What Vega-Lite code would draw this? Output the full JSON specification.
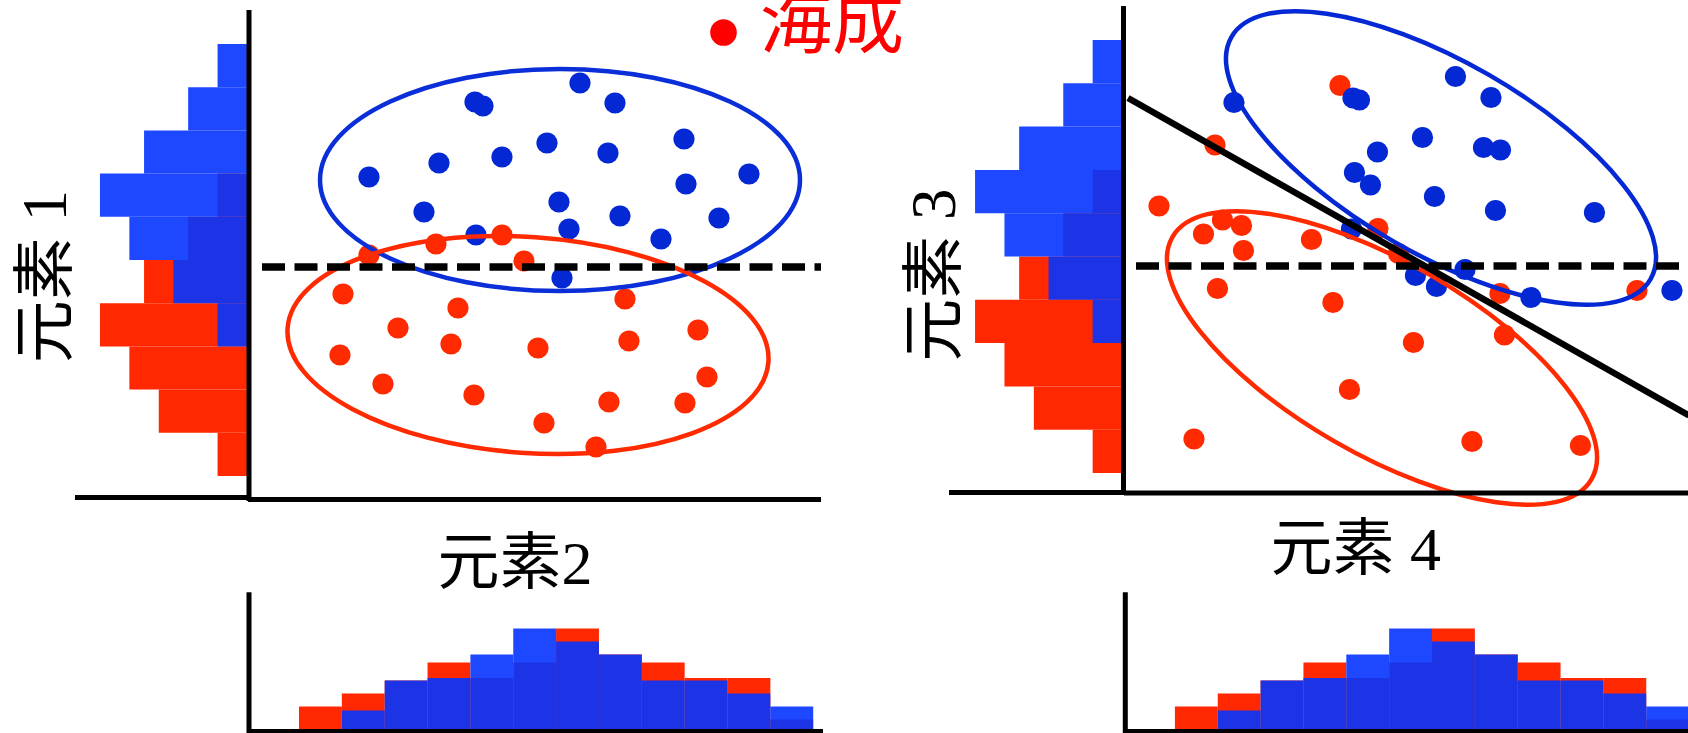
{
  "$schema": "https://vega.github.io/schema/vega-lite/v6.json",
  "width": 1688,
  "height": 733,
  "autosize": "none",
  "padding": 0,
  "background": "white",
  "config": {"view": {"stroke": null}, "axis": {"disable": true}},
  "datasets": {
    "pts": [
      {"panel": "A", "cls": "red", "x": 2.42, "y": 4.88},
      {"panel": "A", "cls": "red", "x": 3.76, "y": 5.10},
      {"panel": "A", "cls": "red", "x": 5.08, "y": 5.28},
      {"panel": "A", "cls": "red", "x": 5.52, "y": 4.76},
      {"panel": "A", "cls": "red", "x": 1.90, "y": 4.10},
      {"panel": "A", "cls": "red", "x": 4.20, "y": 3.82},
      {"panel": "A", "cls": "red", "x": 7.54, "y": 4.00},
      {"panel": "A", "cls": "red", "x": 3.00, "y": 3.42},
      {"panel": "A", "cls": "red", "x": 4.06, "y": 3.10},
      {"panel": "A", "cls": "red", "x": 1.84, "y": 2.88},
      {"panel": "A", "cls": "red", "x": 5.80, "y": 3.02},
      {"panel": "A", "cls": "red", "x": 7.62, "y": 3.16},
      {"panel": "A", "cls": "red", "x": 9.00, "y": 3.38},
      {"panel": "A", "cls": "red", "x": 2.70, "y": 2.30},
      {"panel": "A", "cls": "red", "x": 4.52, "y": 2.08},
      {"panel": "A", "cls": "red", "x": 9.18, "y": 2.44},
      {"panel": "A", "cls": "red", "x": 7.22, "y": 1.94},
      {"panel": "A", "cls": "red", "x": 8.74, "y": 1.92},
      {"panel": "A", "cls": "red", "x": 5.92, "y": 1.52},
      {"panel": "A", "cls": "red", "x": 6.96, "y": 1.04},
      {"panel": "A", "cls": "blue", "x": 6.64, "y": 8.32},
      {"panel": "A", "cls": "blue", "x": 4.54, "y": 7.94},
      {"panel": "A", "cls": "blue", "x": 4.70, "y": 7.86},
      {"panel": "A", "cls": "blue", "x": 7.34, "y": 7.92},
      {"panel": "A", "cls": "blue", "x": 5.98, "y": 7.12},
      {"panel": "A", "cls": "blue", "x": 7.20, "y": 6.92},
      {"panel": "A", "cls": "blue", "x": 8.72, "y": 7.20},
      {"panel": "A", "cls": "blue", "x": 5.08, "y": 6.84},
      {"panel": "A", "cls": "blue", "x": 3.82, "y": 6.72},
      {"panel": "A", "cls": "blue", "x": 2.42, "y": 6.44},
      {"panel": "A", "cls": "blue", "x": 8.76, "y": 6.30},
      {"panel": "A", "cls": "blue", "x": 10.02, "y": 6.50},
      {"panel": "A", "cls": "blue", "x": 3.52, "y": 5.74},
      {"panel": "A", "cls": "blue", "x": 6.22, "y": 5.94},
      {"panel": "A", "cls": "blue", "x": 7.44, "y": 5.66},
      {"panel": "A", "cls": "blue", "x": 9.42, "y": 5.62},
      {"panel": "A", "cls": "blue", "x": 4.56, "y": 5.28},
      {"panel": "A", "cls": "blue", "x": 6.42, "y": 5.40},
      {"panel": "A", "cls": "blue", "x": 8.26, "y": 5.20},
      {"panel": "A", "cls": "blue", "x": 6.28, "y": 4.42},
      {"panel": "B", "cls": "red", "x": 4.32, "y": 8.15},
      {"panel": "B", "cls": "red", "x": 1.82, "y": 6.96},
      {"panel": "B", "cls": "red", "x": 0.70, "y": 5.74},
      {"panel": "B", "cls": "red", "x": 1.97, "y": 5.46},
      {"panel": "B", "cls": "red", "x": 1.59, "y": 5.18},
      {"panel": "B", "cls": "red", "x": 2.35, "y": 5.35},
      {"panel": "B", "cls": "red", "x": 2.39, "y": 4.85},
      {"panel": "B", "cls": "red", "x": 3.75, "y": 5.07},
      {"panel": "B", "cls": "red", "x": 5.08, "y": 5.29},
      {"panel": "B", "cls": "red", "x": 5.49, "y": 4.79},
      {"panel": "B", "cls": "red", "x": 1.87, "y": 4.09},
      {"panel": "B", "cls": "red", "x": 4.18, "y": 3.81},
      {"panel": "B", "cls": "red", "x": 7.52, "y": 3.99},
      {"panel": "B", "cls": "red", "x": 10.26, "y": 4.05},
      {"panel": "B", "cls": "red", "x": 7.61, "y": 3.16},
      {"panel": "B", "cls": "red", "x": 5.79, "y": 3.01},
      {"panel": "B", "cls": "red", "x": 4.51, "y": 2.07},
      {"panel": "B", "cls": "red", "x": 1.40, "y": 1.08},
      {"panel": "B", "cls": "red", "x": 6.96, "y": 1.03},
      {"panel": "B", "cls": "red", "x": 9.13, "y": 0.95},
      {"panel": "B", "cls": "blue", "x": 6.63, "y": 8.33},
      {"panel": "B", "cls": "blue", "x": 7.34, "y": 7.91},
      {"panel": "B", "cls": "blue", "x": 2.20, "y": 7.81},
      {"panel": "B", "cls": "blue", "x": 4.58, "y": 7.90},
      {"panel": "B", "cls": "blue", "x": 4.71, "y": 7.86},
      {"panel": "B", "cls": "blue", "x": 5.97, "y": 7.11},
      {"panel": "B", "cls": "blue", "x": 5.07, "y": 6.82},
      {"panel": "B", "cls": "blue", "x": 7.19, "y": 6.91},
      {"panel": "B", "cls": "blue", "x": 7.53, "y": 6.86},
      {"panel": "B", "cls": "blue", "x": 4.61, "y": 6.41},
      {"panel": "B", "cls": "blue", "x": 4.93, "y": 6.16},
      {"panel": "B", "cls": "blue", "x": 6.21, "y": 5.93},
      {"panel": "B", "cls": "blue", "x": 7.43, "y": 5.65},
      {"panel": "B", "cls": "blue", "x": 9.41, "y": 5.61},
      {"panel": "B", "cls": "blue", "x": 4.55, "y": 5.28},
      {"panel": "B", "cls": "blue", "x": 6.82, "y": 4.47},
      {"panel": "B", "cls": "blue", "x": 5.83, "y": 4.35},
      {"panel": "B", "cls": "blue", "x": 6.25, "y": 4.13},
      {"panel": "B", "cls": "blue", "x": 8.14, "y": 3.91},
      {"panel": "B", "cls": "blue", "x": 10.96, "y": 4.05}
    ],
    "ell": [
      {"panel": "A", "cls": "blue", "x": 6.24, "y": 6.38},
      {"panel": "A", "cls": "red", "x": 5.60, "y": 3.08},
      {"panel": "B", "cls": "blue", "x": 6.34, "y": 6.70},
      {"panel": "B", "cls": "red", "x": 5.16, "y": 2.70}
    ],
    "segs": [
      {"panel": "A", "kind": "axis", "x": 0.02, "y": -0.04, "x2": 0.02, "y2": 9.78},
      {"panel": "A", "kind": "axis", "x": 0.0, "y": -0.01, "x2": 11.46, "y2": -0.01},
      {"panel": "A", "kind": "axis", "x": -3.46, "y": 0.03, "x2": 0.02, "y2": 0.03},
      {"panel": "A", "kind": "dash", "x": 0.28, "y": 4.64, "x2": 11.46, "y2": 4.64},
      {"panel": "B", "kind": "axis", "x": -0.01, "y": -0.04, "x2": -0.01, "y2": 9.74},
      {"panel": "B", "kind": "axis", "x": 0.0, "y": 0.0, "x2": 11.4, "y2": 0.0},
      {"panel": "B", "kind": "axis", "x": -3.5, "y": 0.01, "x2": 0.0, "y2": 0.01},
      {"panel": "B", "kind": "dash", "x": 0.24, "y": 4.54, "x2": 11.4, "y2": 4.54},
      {"panel": "B", "kind": "diag", "x": 0.08, "y": 7.90, "x2": 11.3, "y2": 1.55},
      {"panel": "HA", "kind": "axis", "x": 0.02, "y": -0.23, "x2": 0.02, "y2": 10.6},
      {"panel": "HA", "kind": "axis", "x": 0.02, "y": -0.115, "x2": 11.5, "y2": -0.115},
      {"panel": "HB", "kind": "axis", "x": 0.026, "y": -0.23, "x2": 0.026, "y2": 10.6},
      {"panel": "HB", "kind": "axis", "x": 0.026, "y": -0.115, "x2": 11.4, "y2": -0.115}
    ],
    "txt": [
      {"panel": "A", "role": "xtitle", "label": "元素2", "x": 5.34, "y": -1.69},
      {"panel": "A", "role": "ytitle", "label": "元素 1", "x": -3.65, "y": 4.45},
      {"panel": "A", "role": "legend", "label": "海成", "x": 10.24, "y": 9.04},
      {"panel": "A", "role": "legenddot", "label": "", "x": 9.51, "y": 9.33},
      {"panel": "B", "role": "xtitle", "label": "元素 4", "x": 4.634, "y": -1.54},
      {"panel": "B", "role": "ytitle", "label": "元素 3", "x": -3.38, "y": 4.36}
    ],
    "hl": [
      {"panel": "A", "cls": "red", "lo": 0.46, "hi": 1.324, "n": 2},
      {"panel": "A", "cls": "red", "lo": 1.324, "hi": 2.188, "n": 6},
      {"panel": "A", "cls": "red", "lo": 2.188, "hi": 3.052, "n": 8},
      {"panel": "A", "cls": "red", "lo": 3.052, "hi": 3.916, "n": 10},
      {"panel": "A", "cls": "red", "lo": 3.916, "hi": 4.78, "n": 7},
      {"panel": "A", "cls": "red", "lo": 4.78, "hi": 5.644, "n": 4},
      {"panel": "A", "cls": "red", "lo": 5.644, "hi": 6.508, "n": 2},
      {"panel": "A", "cls": "blue", "lo": 3.052, "hi": 3.916, "n": 2},
      {"panel": "A", "cls": "blue", "lo": 3.916, "hi": 4.78, "n": 5},
      {"panel": "A", "cls": "blue", "lo": 4.78, "hi": 5.644, "n": 8},
      {"panel": "A", "cls": "blue", "lo": 5.644, "hi": 6.508, "n": 10},
      {"panel": "A", "cls": "blue", "lo": 6.508, "hi": 7.372, "n": 7},
      {"panel": "A", "cls": "blue", "lo": 7.372, "hi": 8.236, "n": 4},
      {"panel": "A", "cls": "blue", "lo": 8.236, "hi": 9.10, "n": 2},
      {"panel": "B", "cls": "red", "lo": 0.40, "hi": 1.266, "n": 2},
      {"panel": "B", "cls": "red", "lo": 1.266, "hi": 2.132, "n": 6},
      {"panel": "B", "cls": "red", "lo": 2.132, "hi": 2.998, "n": 8},
      {"panel": "B", "cls": "red", "lo": 2.998, "hi": 3.864, "n": 10},
      {"panel": "B", "cls": "red", "lo": 3.864, "hi": 4.73, "n": 7},
      {"panel": "B", "cls": "red", "lo": 4.73, "hi": 5.596, "n": 4},
      {"panel": "B", "cls": "red", "lo": 5.596, "hi": 6.462, "n": 2},
      {"panel": "B", "cls": "blue", "lo": 2.998, "hi": 3.864, "n": 2},
      {"panel": "B", "cls": "blue", "lo": 3.864, "hi": 4.73, "n": 5},
      {"panel": "B", "cls": "blue", "lo": 4.73, "hi": 5.596, "n": 8},
      {"panel": "B", "cls": "blue", "lo": 5.596, "hi": 6.462, "n": 10},
      {"panel": "B", "cls": "blue", "lo": 6.462, "hi": 7.328, "n": 7},
      {"panel": "B", "cls": "blue", "lo": 7.328, "hi": 8.194, "n": 4},
      {"panel": "B", "cls": "blue", "lo": 8.194, "hi": 9.06, "n": 2}
    ],
    "hb": [
      {"panel": "A", "cls": "red", "lo": 1.02, "hi": 1.877, "n": 1.8},
      {"panel": "A", "cls": "red", "lo": 1.877, "hi": 2.734, "n": 2.8},
      {"panel": "A", "cls": "red", "lo": 2.734, "hi": 3.591, "n": 3.8},
      {"panel": "A", "cls": "red", "lo": 3.591, "hi": 4.448, "n": 5.2},
      {"panel": "A", "cls": "red", "lo": 4.448, "hi": 5.305, "n": 4.0},
      {"panel": "A", "cls": "red", "lo": 5.305, "hi": 6.162, "n": 5.2},
      {"panel": "A", "cls": "red", "lo": 6.162, "hi": 7.019, "n": 7.8},
      {"panel": "A", "cls": "red", "lo": 7.019, "hi": 7.876, "n": 5.8},
      {"panel": "A", "cls": "red", "lo": 7.876, "hi": 8.733, "n": 5.2},
      {"panel": "A", "cls": "red", "lo": 8.733, "hi": 9.59, "n": 4.0},
      {"panel": "A", "cls": "red", "lo": 9.59, "hi": 10.447, "n": 4.0},
      {"panel": "A", "cls": "red", "lo": 10.447, "hi": 11.304, "n": 0.8},
      {"panel": "A", "cls": "blue", "lo": 1.877, "hi": 2.734, "n": 1.5},
      {"panel": "A", "cls": "blue", "lo": 2.734, "hi": 3.591, "n": 3.8},
      {"panel": "A", "cls": "blue", "lo": 3.591, "hi": 4.448, "n": 4.0},
      {"panel": "A", "cls": "blue", "lo": 4.448, "hi": 5.305, "n": 5.8},
      {"panel": "A", "cls": "blue", "lo": 5.305, "hi": 6.162, "n": 7.8},
      {"panel": "A", "cls": "blue", "lo": 6.162, "hi": 7.019, "n": 6.8},
      {"panel": "A", "cls": "blue", "lo": 7.019, "hi": 7.876, "n": 5.8},
      {"panel": "A", "cls": "blue", "lo": 7.876, "hi": 8.733, "n": 3.8},
      {"panel": "A", "cls": "blue", "lo": 8.733, "hi": 9.59, "n": 3.8},
      {"panel": "A", "cls": "blue", "lo": 9.59, "hi": 10.447, "n": 2.8},
      {"panel": "A", "cls": "blue", "lo": 10.447, "hi": 11.304, "n": 1.8},
      {"panel": "B", "cls": "red", "lo": 1.018, "hi": 1.875, "n": 1.8},
      {"panel": "B", "cls": "red", "lo": 1.875, "hi": 2.732, "n": 2.8},
      {"panel": "B", "cls": "red", "lo": 2.732, "hi": 3.589, "n": 3.8},
      {"panel": "B", "cls": "red", "lo": 3.589, "hi": 4.446, "n": 5.2},
      {"panel": "B", "cls": "red", "lo": 4.446, "hi": 5.303, "n": 4.0},
      {"panel": "B", "cls": "red", "lo": 5.303, "hi": 6.16, "n": 5.2},
      {"panel": "B", "cls": "red", "lo": 6.16, "hi": 7.017, "n": 7.8},
      {"panel": "B", "cls": "red", "lo": 7.017, "hi": 7.874, "n": 5.8},
      {"panel": "B", "cls": "red", "lo": 7.874, "hi": 8.731, "n": 5.2},
      {"panel": "B", "cls": "red", "lo": 8.731, "hi": 9.588, "n": 4.0},
      {"panel": "B", "cls": "red", "lo": 9.588, "hi": 10.445, "n": 4.0},
      {"panel": "B", "cls": "red", "lo": 10.445, "hi": 11.302, "n": 0.8},
      {"panel": "B", "cls": "blue", "lo": 1.875, "hi": 2.732, "n": 1.5},
      {"panel": "B", "cls": "blue", "lo": 2.732, "hi": 3.589, "n": 3.8},
      {"panel": "B", "cls": "blue", "lo": 3.589, "hi": 4.446, "n": 4.0},
      {"panel": "B", "cls": "blue", "lo": 4.446, "hi": 5.303, "n": 5.8},
      {"panel": "B", "cls": "blue", "lo": 5.303, "hi": 6.16, "n": 7.8},
      {"panel": "B", "cls": "blue", "lo": 6.16, "hi": 7.017, "n": 6.8},
      {"panel": "B", "cls": "blue", "lo": 7.017, "hi": 7.874, "n": 5.8},
      {"panel": "B", "cls": "blue", "lo": 7.874, "hi": 8.731, "n": 3.8},
      {"panel": "B", "cls": "blue", "lo": 8.731, "hi": 9.588, "n": 3.8},
      {"panel": "B", "cls": "blue", "lo": 9.588, "hi": 10.445, "n": 2.8},
      {"panel": "B", "cls": "blue", "lo": 10.445, "hi": 11.302, "n": 1.8}
    ]
  },
  "resolve": {"scale": {"x": "independent", "y": "independent", "color": "independent"}},
  "layer": [
    {
      "layer": [
        {
          "data": {"name": "hl"},
          "transform": [{"filter": "datum.panel === 'A' && datum.cls === 'red'"}],
          "mark": {"type": "rect", "color": "#FF2800"},
          "encoding": {
            "x": {"field": "n", "type": "quantitative", "scale": {"domain": [-98.03, 16.8], "reverse": true, "nice": false, "zero": false}},
            "x2": {"datum": 0},
            "y": {"field": "lo", "type": "quantitative", "scale": {"domain": [-4.68, 9.98], "nice": false, "zero": false}},
            "y2": {"field": "hi"}
          }
        },
        {
          "data": {"name": "hl"},
          "transform": [{"filter": "datum.panel === 'A' && datum.cls === 'blue'"}],
          "mark": {"type": "rect", "color": "#0434FF", "opacity": 0.9},
          "encoding": {
            "x": {"field": "n", "type": "quantitative", "scale": {"domain": [-98.03, 16.8], "reverse": true, "nice": false, "zero": false}},
            "x2": {"datum": 0},
            "y": {"field": "lo", "type": "quantitative", "scale": {"domain": [-4.68, 9.98], "nice": false, "zero": false}},
            "y2": {"field": "hi"}
          }
        }
      ]
    },
    {
      "layer": [
        {
          "data": {"name": "hl"},
          "transform": [{"filter": "datum.panel === 'B' && datum.cls === 'red'"}],
          "mark": {"type": "rect", "color": "#FF2800"},
          "encoding": {
            "x": {"field": "n", "type": "quantitative", "scale": {"domain": [-38.5, 76.33], "reverse": true, "nice": false, "zero": false}},
            "x2": {"datum": 0},
            "y": {"field": "lo", "type": "quantitative", "scale": {"domain": [-4.8, 9.86], "nice": false, "zero": false}},
            "y2": {"field": "hi"}
          }
        },
        {
          "data": {"name": "hl"},
          "transform": [{"filter": "datum.panel === 'B' && datum.cls === 'blue'"}],
          "mark": {"type": "rect", "color": "#0434FF", "opacity": 0.9},
          "encoding": {
            "x": {"field": "n", "type": "quantitative", "scale": {"domain": [-38.5, 76.33], "reverse": true, "nice": false, "zero": false}},
            "x2": {"datum": 0},
            "y": {"field": "lo", "type": "quantitative", "scale": {"domain": [-4.8, 9.86], "nice": false, "zero": false}},
            "y2": {"field": "hi"}
          }
        }
      ]
    },
    {
      "layer": [
        {
          "data": {"name": "hb"},
          "transform": [{"filter": "datum.panel === 'A' && datum.cls === 'red'"}],
          "mark": {"type": "rect", "color": "#FF2800"},
          "encoding": {
            "x": {"field": "lo", "type": "quantitative", "scale": {"domain": [-4.96, 28.8], "nice": false, "zero": false}},
            "x2": {"field": "hi"},
            "y": {"field": "n", "type": "quantitative", "scale": {"domain": [-0.2308, 56.1538], "nice": false, "zero": false}},
            "y2": {"datum": 0}
          }
        },
        {
          "data": {"name": "hb"},
          "transform": [{"filter": "datum.panel === 'A' && datum.cls === 'blue'"}],
          "mark": {"type": "rect", "color": "#0434FF", "opacity": 0.9},
          "encoding": {
            "x": {"field": "lo", "type": "quantitative", "scale": {"domain": [-4.96, 28.8], "nice": false, "zero": false}},
            "x2": {"field": "hi"},
            "y": {"field": "n", "type": "quantitative", "scale": {"domain": [-0.2308, 56.1538], "nice": false, "zero": false}},
            "y2": {"datum": 0}
          }
        },
        {
          "data": {"name": "segs"},
          "transform": [{"filter": "datum.panel === 'HA'"}],
          "mark": {"type": "rule", "color": "black", "strokeWidth": 5},
          "encoding": {
            "x": {"field": "x", "type": "quantitative", "scale": {"domain": [-4.96, 28.8], "nice": false, "zero": false}},
            "x2": {"field": "x2"},
            "y": {"field": "y", "type": "quantitative", "scale": {"domain": [-0.2308, 56.1538], "nice": false, "zero": false}},
            "y2": {"field": "y2"}
          }
        }
      ]
    },
    {
      "layer": [
        {
          "data": {"name": "hb"},
          "transform": [{"filter": "datum.panel === 'B' && datum.cls === 'red'"}],
          "mark": {"type": "rect", "color": "#FF2800"},
          "encoding": {
            "x": {"field": "lo", "type": "quantitative", "scale": {"domain": [-22.48, 11.28], "nice": false, "zero": false}},
            "x2": {"field": "hi"},
            "y": {"field": "n", "type": "quantitative", "scale": {"domain": [-0.2308, 56.1538], "nice": false, "zero": false}},
            "y2": {"datum": 0}
          }
        },
        {
          "data": {"name": "hb"},
          "transform": [{"filter": "datum.panel === 'B' && datum.cls === 'blue'"}],
          "mark": {"type": "rect", "color": "#0434FF", "opacity": 0.9},
          "encoding": {
            "x": {"field": "lo", "type": "quantitative", "scale": {"domain": [-22.48, 11.28], "nice": false, "zero": false}},
            "x2": {"field": "hi"},
            "y": {"field": "n", "type": "quantitative", "scale": {"domain": [-0.2308, 56.1538], "nice": false, "zero": false}},
            "y2": {"datum": 0}
          }
        },
        {
          "data": {"name": "segs"},
          "transform": [{"filter": "datum.panel === 'HB'"}],
          "mark": {"type": "rule", "color": "black", "strokeWidth": 5},
          "encoding": {
            "x": {"field": "x", "type": "quantitative", "scale": {"domain": [-22.48, 11.28], "nice": false, "zero": false}},
            "x2": {"field": "x2"},
            "y": {"field": "y", "type": "quantitative", "scale": {"domain": [-0.2308, 56.1538], "nice": false, "zero": false}},
            "y2": {"field": "y2"}
          }
        }
      ]
    },
    {
      "layer": [
        {
          "data": {"name": "pts"},
          "transform": [{"filter": "datum.panel === 'A'"}],
          "mark": {"type": "circle", "size": 450, "opacity": 1},
          "encoding": {
            "x": {"field": "x", "type": "quantitative", "scale": {"domain": [-4.96, 28.8], "nice": false, "zero": false}},
            "y": {"field": "y", "type": "quantitative", "scale": {"domain": [-4.68, 9.98], "nice": false, "zero": false}},
            "color": {"field": "cls", "type": "nominal", "scale": {"domain": ["red", "blue"], "range": ["#FF2A00", "#0429D4"]}, "legend": null}
          }
        },
        {
          "data": {"name": "ell"},
          "transform": [{"filter": "datum.panel === 'A' && datum.cls === 'blue'"}],
          "mark": {"type": "point", "filled": false, "opacity": 1, "stroke": "#0A2ED8", "strokeWidth": 4.5, "size": 230400,
                   "shape": "M1,0C1,0.2554 0.5523,0.4625 0,0.4625C-0.5523,0.4625 -1,0.2554 -1,0C-1,-0.2554 -0.5523,-0.4625 0,-0.4625C0.5523,-0.4625 1,-0.2554 1,0Z"},
          "encoding": {
            "x": {"field": "x", "type": "quantitative", "scale": {"domain": [-4.96, 28.8], "nice": false, "zero": false}},
            "y": {"field": "y", "type": "quantitative", "scale": {"domain": [-4.68, 9.98], "nice": false, "zero": false}}
          }
        },
        {
          "data": {"name": "ell"},
          "transform": [{"filter": "datum.panel === 'A' && datum.cls === 'red'"}],
          "mark": {"type": "point", "filled": false, "opacity": 1, "stroke": "#FF2A00", "strokeWidth": 4.5, "size": 232324, "angle": 4,
                   "shape": "M1,0C1,0.2474 0.5523,0.448 0,0.448C-0.5523,0.448 -1,0.2474 -1,0C-1,-0.2474 -0.5523,-0.448 0,-0.448C0.5523,-0.448 1,-0.2474 1,0Z"},
          "encoding": {
            "x": {"field": "x", "type": "quantitative", "scale": {"domain": [-4.96, 28.8], "nice": false, "zero": false}},
            "y": {"field": "y", "type": "quantitative", "scale": {"domain": [-4.68, 9.98], "nice": false, "zero": false}}
          }
        },
        {
          "data": {"name": "segs"},
          "transform": [{"filter": "datum.panel === 'A' && datum.kind === 'axis'"}],
          "mark": {"type": "rule", "color": "black", "strokeWidth": 5},
          "encoding": {
            "x": {"field": "x", "type": "quantitative", "scale": {"domain": [-4.96, 28.8], "nice": false, "zero": false}},
            "x2": {"field": "x2"},
            "y": {"field": "y", "type": "quantitative", "scale": {"domain": [-4.68, 9.98], "nice": false, "zero": false}},
            "y2": {"field": "y2"}
          }
        },
        {
          "data": {"name": "segs"},
          "transform": [{"filter": "datum.panel === 'A' && datum.kind === 'dash'"}],
          "mark": {"type": "rule", "color": "black", "strokeWidth": 7.5, "strokeDash": [23, 9.5]},
          "encoding": {
            "x": {"field": "x", "type": "quantitative", "scale": {"domain": [-4.96, 28.8], "nice": false, "zero": false}},
            "x2": {"field": "x2"},
            "y": {"field": "y", "type": "quantitative", "scale": {"domain": [-4.68, 9.98], "nice": false, "zero": false}},
            "y2": {"field": "y2"}
          }
        },
        {
          "data": {"name": "txt"},
          "transform": [{"filter": "datum.panel === 'A' && datum.role === 'legenddot'"}],
          "mark": {"type": "circle", "size": 707, "opacity": 1, "color": "#FF0000"},
          "encoding": {
            "x": {"field": "x", "type": "quantitative", "scale": {"domain": [-4.96, 28.8], "nice": false, "zero": false}},
            "y": {"field": "y", "type": "quantitative", "scale": {"domain": [-4.68, 9.98], "nice": false, "zero": false}}
          }
        },
        {
          "data": {"name": "txt"},
          "transform": [{"filter": "datum.panel === 'A' && datum.role === 'legend'"}],
          "mark": {"type": "text", "font": "Noto Sans CJK JP", "fontSize": 72, "color": "#FF0000", "align": "left", "baseline": "alphabetic"},
          "encoding": {
            "x": {"field": "x", "type": "quantitative", "scale": {"domain": [-4.96, 28.8], "nice": false, "zero": false}},
            "y": {"field": "y", "type": "quantitative", "scale": {"domain": [-4.68, 9.98], "nice": false, "zero": false}},
            "text": {"field": "label"}
          }
        },
        {
          "data": {"name": "txt"},
          "transform": [{"filter": "datum.panel === 'A' && datum.role === 'xtitle'"}],
          "mark": {"type": "text", "font": "Liberation Serif, Noto Sans CJK JP", "fontSize": 62, "color": "black", "align": "center", "baseline": "alphabetic"},
          "encoding": {
            "x": {"field": "x", "type": "quantitative", "scale": {"domain": [-4.96, 28.8], "nice": false, "zero": false}},
            "y": {"field": "y", "type": "quantitative", "scale": {"domain": [-4.68, 9.98], "nice": false, "zero": false}},
            "text": {"field": "label"}
          }
        },
        {
          "data": {"name": "txt"},
          "transform": [{"filter": "datum.panel === 'A' && datum.role === 'ytitle'"}],
          "mark": {"type": "text", "font": "Liberation Serif, Noto Sans CJK JP", "fontSize": 63, "color": "black", "align": "center", "baseline": "alphabetic", "angle": 270},
          "encoding": {
            "x": {"field": "x", "type": "quantitative", "scale": {"domain": [-4.96, 28.8], "nice": false, "zero": false}},
            "y": {"field": "y", "type": "quantitative", "scale": {"domain": [-4.68, 9.98], "nice": false, "zero": false}},
            "text": {"field": "label"}
          }
        }
      ]
    },
    {
      "layer": [
        {
          "data": {"name": "pts"},
          "transform": [{"filter": "datum.panel === 'B'"}],
          "mark": {"type": "circle", "size": 450, "opacity": 1},
          "encoding": {
            "x": {"field": "x", "type": "quantitative", "scale": {"domain": [-22.48, 11.28], "nice": false, "zero": false}},
            "y": {"field": "y", "type": "quantitative", "scale": {"domain": [-4.8, 9.86], "nice": false, "zero": false}},
            "color": {"field": "cls", "type": "nominal", "scale": {"domain": ["red", "blue"], "range": ["#FF2A00", "#0429D4"]}, "legend": null}
          }
        },
        {
          "data": {"name": "ell"},
          "transform": [{"filter": "datum.panel === 'B'"}],
          "mark": {"type": "point", "filled": false, "opacity": 1, "strokeWidth": 4.5, "size": 234256, "angle": 30,
                   "shape": "M1,0C1,0.2191 0.5523,0.3967 0,0.3967C-0.5523,0.3967 -1,0.2191 -1,0C-1,-0.2191 -0.5523,-0.3967 0,-0.3967C0.5523,-0.3967 1,-0.2191 1,0Z"},
          "encoding": {
            "x": {"field": "x", "type": "quantitative", "scale": {"domain": [-22.48, 11.28], "nice": false, "zero": false}},
            "y": {"field": "y", "type": "quantitative", "scale": {"domain": [-4.8, 9.86], "nice": false, "zero": false}},
            "color": {"field": "cls", "type": "nominal", "scale": {"domain": ["red", "blue"], "range": ["#FF2A00", "#0429D4"]}, "legend": null}
          }
        },
        {
          "data": {"name": "segs"},
          "transform": [{"filter": "datum.panel === 'B' && datum.kind === 'axis'"}],
          "mark": {"type": "rule", "color": "black", "strokeWidth": 5},
          "encoding": {
            "x": {"field": "x", "type": "quantitative", "scale": {"domain": [-22.48, 11.28], "nice": false, "zero": false}},
            "x2": {"field": "x2"},
            "y": {"field": "y", "type": "quantitative", "scale": {"domain": [-4.8, 9.86], "nice": false, "zero": false}},
            "y2": {"field": "y2"}
          }
        },
        {
          "data": {"name": "segs"},
          "transform": [{"filter": "datum.panel === 'B' && datum.kind === 'dash'"}],
          "mark": {"type": "rule", "color": "black", "strokeWidth": 7.5, "strokeDash": [23, 9.5]},
          "encoding": {
            "x": {"field": "x", "type": "quantitative", "scale": {"domain": [-22.48, 11.28], "nice": false, "zero": false}},
            "x2": {"field": "x2"},
            "y": {"field": "y", "type": "quantitative", "scale": {"domain": [-4.8, 9.86], "nice": false, "zero": false}},
            "y2": {"field": "y2"}
          }
        },
        {
          "data": {"name": "segs"},
          "transform": [{"filter": "datum.panel === 'B' && datum.kind === 'diag'"}],
          "mark": {"type": "rule", "color": "black", "strokeWidth": 6.5},
          "encoding": {
            "x": {"field": "x", "type": "quantitative", "scale": {"domain": [-22.48, 11.28], "nice": false, "zero": false}},
            "x2": {"field": "x2"},
            "y": {"field": "y", "type": "quantitative", "scale": {"domain": [-4.8, 9.86], "nice": false, "zero": false}},
            "y2": {"field": "y2"}
          }
        },
        {
          "data": {"name": "txt"},
          "transform": [{"filter": "datum.panel === 'B' && datum.role === 'xtitle'"}],
          "mark": {"type": "text", "font": "Liberation Serif, Noto Sans CJK JP", "fontSize": 62, "color": "black", "align": "center", "baseline": "alphabetic"},
          "encoding": {
            "x": {"field": "x", "type": "quantitative", "scale": {"domain": [-22.48, 11.28], "nice": false, "zero": false}},
            "y": {"field": "y", "type": "quantitative", "scale": {"domain": [-4.8, 9.86], "nice": false, "zero": false}},
            "text": {"field": "label"}
          }
        },
        {
          "data": {"name": "txt"},
          "transform": [{"filter": "datum.panel === 'B' && datum.role === 'ytitle'"}],
          "mark": {"type": "text", "font": "Liberation Serif, Noto Sans CJK JP", "fontSize": 63, "color": "black", "align": "center", "baseline": "alphabetic", "angle": 270},
          "encoding": {
            "x": {"field": "x", "type": "quantitative", "scale": {"domain": [-22.48, 11.28], "nice": false, "zero": false}},
            "y": {"field": "y", "type": "quantitative", "scale": {"domain": [-4.8, 9.86], "nice": false, "zero": false}},
            "text": {"field": "label"}
          }
        }
      ]
    }
  ]
}
